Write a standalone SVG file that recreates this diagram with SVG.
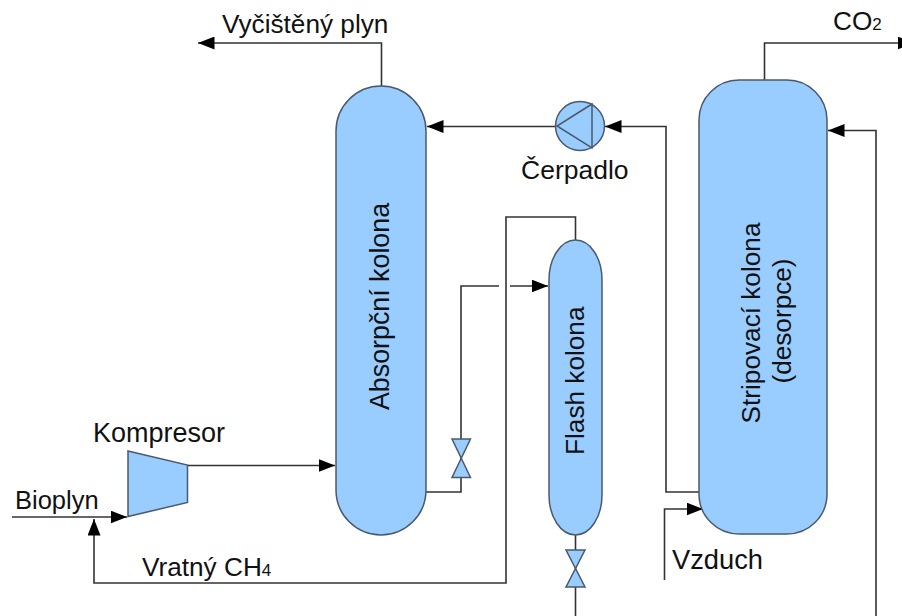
<svg xmlns="http://www.w3.org/2000/svg" width="902" height="616" viewBox="0 0 902 616">
<style>
.eq{fill:#99ccff;stroke:#4a5a6a;stroke-width:1.5}
.ln{fill:none;stroke:#333;stroke-width:1.6}
.ar{marker-end:url(#a)}
text{font-family:"Liberation Sans",Arial,sans-serif;font-size:26.200px;fill:#111}
.sub{font-size:17px}
</style>
<defs>
<marker id="a" markerUnits="userSpaceOnUse" markerWidth="17" markerHeight="13" refX="16.500" refY="6.500" orient="auto">
<path d="M0 0L16.500 6.500L0 13Z" fill="#000"/>
</marker>
</defs>
<rect width="902" height="616" fill="#fff"/>
<g id="connectors">
<path class="ln ar" d="M381.500 86V43H198"/>
<path class="ln ar" d="M556 126.500H427"/>
<path class="ln ar" d="M699 492H666V126.500H605"/>
<path class="ln ar" d="M575.500 240V217H506V583H94V519"/>
<path class="ln" d="M426 492H461V286H499"/>
<path class="ln ar" d="M510 286H548"/>
<path class="ln" d="M575.500 535V616"/>
<path class="ln ar" d="M664.500 580V509H703"/>
<path class="ln ar" d="M764.500 80V43H914"/>
<path class="ln ar" d="M876 616V130.500H828"/>
<path class="ln ar" d="M188 465.500H335"/>
<path class="ln ar" d="M12 517H127"/>
</g>
<g id="absorpcni-kolona">
<rect class="eq" x="336" y="86" width="90" height="449" rx="45" ry="45"/>
<text transform="translate(389 410) rotate(-90)" style="font-size:26.800px">Absorpční kolona</text>
</g>
<g id="flash-kolona">
<rect class="eq" x="549" y="240" width="53" height="295" rx="26.500" ry="40"/>
<text transform="translate(584 455) rotate(-90)">Flash kolona</text>
</g>
<g id="stripovaci-kolona">
<rect class="eq" x="699" y="80" width="128" height="454" rx="40" ry="40"/>
<text text-anchor="middle" transform="translate(760 323) rotate(-90)">Stripovací kolona</text>
<text text-anchor="middle" transform="translate(791 321) rotate(-90)">(desorpce)</text>
</g>
<g id="cerpadlo">
<circle class="eq" cx="580" cy="126" r="24.500"/>
<path class="eq" d="M592 104L557 126L592 148Z"/>
<text x="521" y="179" style="font-size:26.500px">Čerpadlo</text>
</g>
<g id="kompresor">
<path class="eq" d="M128 451L187.500 465V502.500L128 516.500Z"/>
<text x="93" y="442" style="font-size:27px">Kompresor</text>
</g>
<g id="ventil-1">
<path class="eq" d="M452 439H470.500L452 477.500H470.500Z"/>
</g>
<g id="ventil-2">
<path class="eq" d="M566 550H585L566 587H585Z"/>
</g>
<g id="labels">
<text x="222" y="33">Vyčištěný plyn</text>
<text x="833" y="30">CO<tspan class="sub">2</tspan></text>
<text x="15" y="509" style="font-size:25.500px">Bioplyn</text>
<text x="142" y="576">Vratný CH<tspan class="sub">4</tspan></text>
<text x="672" y="569" style="font-size:27.300px">Vzduch</text>
</g>
</svg>
